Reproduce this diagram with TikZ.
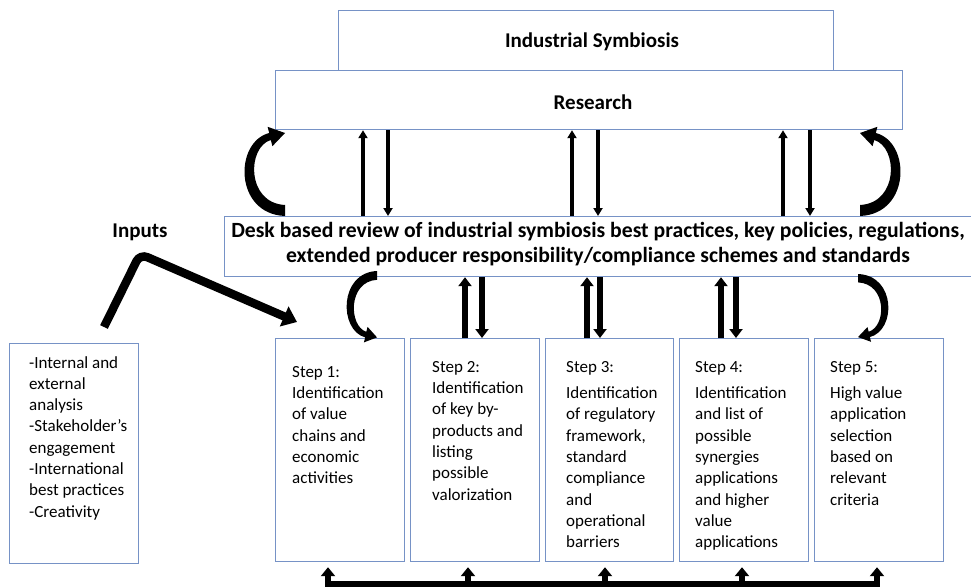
\documentclass[tikz,border=0pt]{standalone}
\usepackage{fontspec}
\setmainfont{Carlito}
\usetikzlibrary{arrows.meta}
\definecolor{boxblue}{RGB}{118,146,198}
\begin{document}
\begin{tikzpicture}[x=1pt,y=-1pt,
  box/.style={draw=boxblue, line width=1.2pt, fill=white, rectangle, inner sep=0pt, anchor=north west},
  ttl/.style={font=\bfseries\fontsize{21}{25}\selectfont, inner sep=0pt},
  stxt/.style={font=\fontsize{17}{21.3}\selectfont, align=left, anchor=north west, inner sep=0pt},
  thinarr/.style={line width=3.2pt, -{Triangle[width=9pt,length=8pt]}},
  fatarr/.style={line width=5.5pt, -{Triangle[width=13pt,length=9pt]}},
  inarr/.style={line width=8.5pt, -{Triangle[width=21pt,length=14pt]}, rounded corners=8pt},
  botarr/.style={line width=5.5pt, -{Triangle[width=14pt,length=9pt]}, shorten >=5pt},
  curly/.pic={\fill (0,0) .. controls (-51,-2) and (-51,-74) .. (-15.8,-83)
      -- (-17.4,-89.2) -- (0,-83) -- (-12.6,-69.8) -- (-14.2,-76)
      .. controls (-38,-69) and (-39,-13) .. (0,-11) -- cycle;}
]
\useasboundingbox (0,0) rectangle (971,588);
\clip (0,0) rectangle (971,588);
% boxes
\node[box, minimum width=495pt, minimum height=60pt] (ind) at (338,10) {};
\node[box, minimum width=627pt, minimum height=59pt] (res) at (275,70) {};
\node[box, minimum width=760pt, minimum height=60pt] (desk) at (224,216) {};
\node[box, minimum width=129pt, minimum height=223pt] (s1) at (275,338) {};
\node[box, minimum width=129pt, minimum height=223pt] (s2) at (410,338) {};
\node[box, minimum width=128pt, minimum height=223pt] (s3) at (545,338) {};
\node[box, minimum width=129pt, minimum height=223pt] (s4) at (679,338) {};
\node[box, minimum width=129pt, minimum height=223pt] (s5) at (814,338) {};
\node[box, minimum width=129pt, minimum height=220pt] (lb) at (9,343) {};
% titles
\node[ttl] (indt) at (592,42) {Industrial Symbiosis};
\node[ttl] (rest) at (593,102) {Research};
\node[ttl, align=center, font=\bfseries\fontsize{21.7}{25}\selectfont] (deskt) at (598,244) {Desk based review of industrial symbiosis best practices, key policies, regulations,\\extended producer responsibility/compliance schemes and standards};
\node[ttl] (inp) at (140,232) {Inputs};
% step texts
\node[stxt] (s1t) at (292,366) {Step 1:\\Identification\\of value\\chains and\\economic\\activities};
\node[stxt] (s2t) at (432,361) {Step 2:\\Identification\\of key by-\\products and\\listing\\possible\\valorization};
\node[stxt] (s3t) at (566,361) {Step 3:\\[5pt]Identification\\of regulatory\\framework,\\standard\\compliance\\and\\operational\\barriers};
\node[stxt] (s4t) at (695,361) {Step 4:\\[5pt]Identification\\and list of\\possible\\synergies\\applications\\and higher\\value\\applications};
\node[stxt] (s5t) at (830,361) {Step 5:\\[5pt]High value\\application\\selection\\based on\\relevant\\criteria};
\node[stxt] (lbt) at (29,356) {-Internal and\\external\\analysis\\-Stakeholder’s\\engagement\\-International\\best practices\\-Creativity};
% thin arrows research <-> desk
\draw[thinarr] (desk.north -| 363,0) -- (res.south -| 363,0);
\draw[thinarr] (res.south -| 388,0) -- (desk.north -| 388,0);
\draw[thinarr] (desk.north -| 572,0) -- (res.south -| 572,0);
\draw[thinarr] (res.south -| 598,0) -- (desk.north -| 598,0);
\draw[thinarr] (desk.north -| 783,0) -- (res.south -| 783,0);
\draw[thinarr] (res.south -| 810,0) -- (desk.north -| 810,0);
% curved (tapered) arrows
\pic at (285,216) {curly};
\pic[xscale=-1] at (860,216) {curly};
\pic[xscale=0.75, yscale=-0.8] at (377,271) {curly};
\pic[xscale=-0.75, yscale=-0.76] at (858,274) {curly};
% fat arrows desk <-> steps
\draw[fatarr] (s2.north -| 465,0) -- (desk.south -| 465,0);
\draw[fatarr] (desk.south -| 482,0) -- (s2.north -| 482,0);
\draw[fatarr] (s3.north -| 587,0) -- (desk.south -| 587,0);
\draw[fatarr] (desk.south -| 600,0) -- (s3.north -| 600,0);
\draw[fatarr] (s4.north -| 721,0) -- (desk.south -| 721,0);
\draw[fatarr] (desk.south -| 736,0) -- (s4.north -| 736,0);
% inputs arrow
\coordinate (inS) at (104,327);
\coordinate (inK) at (140,254);
\coordinate (inE) at (297,322);
\draw[inarr] (inS) -- (inK) -- (inE);
% bottom feedback
\coordinate (b1) at (328,584);
\coordinate (b2) at (468,584);
\coordinate (b3) at (605,584);
\coordinate (b4) at (742,584);
\coordinate (b5) at (877,584);
\draw[line width=5.5pt] (b1) -- (b5);
\draw[botarr] ([yshift=-2.75pt]b1) -- (s1.south -| b1);
\draw[botarr] (b2) -- (s2.south -| b2);
\draw[botarr] (b3) -- (s3.south -| b3);
\draw[botarr] (b4) -- (s4.south -| b4);
\draw[botarr] ([yshift=-2.75pt]b5) -- (s5.south -| b5);
\end{tikzpicture}
\end{document}
